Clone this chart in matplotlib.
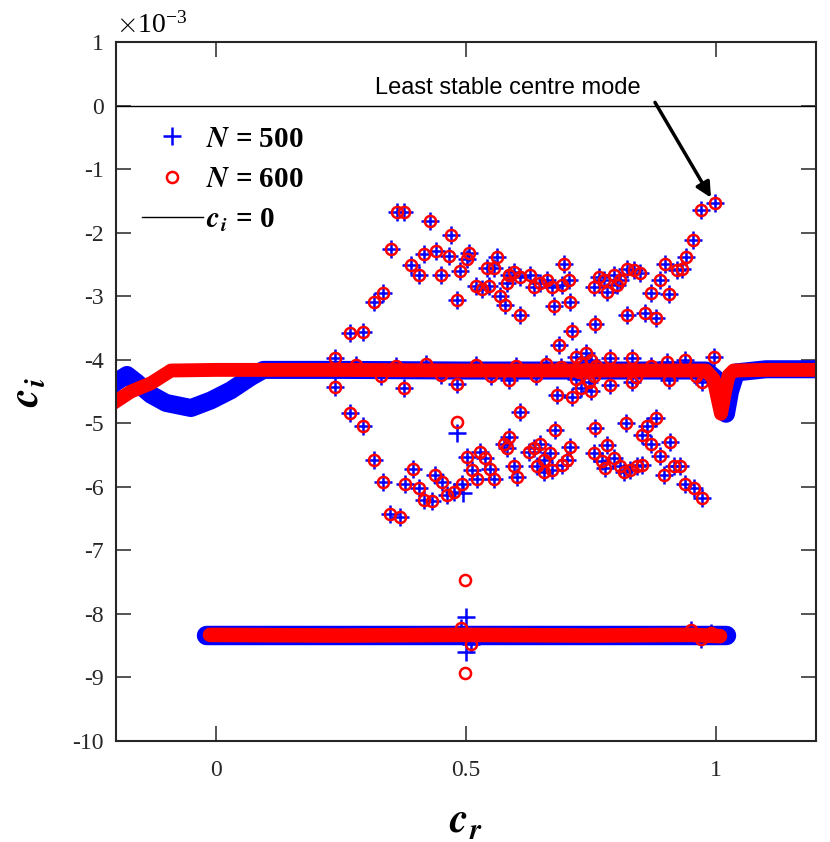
import matplotlib
matplotlib.use('Agg')
import matplotlib.pyplot as plt

# imaginary parts are in units of 1e-3 (see the x10^-3 note on the axis)

# discrete modes, found with both resolutions
modes_cr = [0.361, 0.375, 0.428, 0.470, 0.350, 0.416, 0.440, 0.465, 0.505, 0.501,
            0.561, 0.390, 0.405, 0.450, 0.488, 0.541, 0.555, 0.696, 0.520, 0.531,
            0.545, 0.585, 0.595, 0.608, 0.628, 0.635, 0.648, 0.661, 0.671, 0.691,
            0.705, 0.581, 0.481, 0.568, 0.578, 0.608, 0.675, 0.708, 0.315, 0.333,
            0.268, 0.293, 0.238, 0.711, 0.685, 0.755, 0.758,
            0.969, 0.998, 0.953, 0.940, 0.898, 0.921, 0.931, 0.888, 0.870, 0.905,
            0.858, 0.880, 0.821, 0.765, 0.775, 0.781, 0.795, 0.808, 0.821, 0.835,
            0.848, 0.801,
            0.788, 0.831, 0.901, 0.938, 0.995, 0.788, 0.831, 0.905, 0.971,
            0.238, 0.376, 0.481, 0.681, 0.711, 0.585,
            0.28, 0.33, 0.36, 0.42, 0.45, 0.52, 0.55, 0.60, 0.64, 0.66, 0.69, 0.84, 0.87, 0.96,
            0.72, 0.73, 0.74, 0.75, 0.72, 0.73, 0.745, 0.755, 0.74, 0.76, 0.725, 0.75,
            0.268, 0.293, 0.608, 0.678, 0.758, 0.315, 0.333, 0.393, 0.378, 0.405,
            0.415, 0.431, 0.438, 0.451, 0.461, 0.475, 0.491, 0.348, 0.367, 0.501,
            0.528, 0.538, 0.511, 0.521, 0.548, 0.555, 0.575, 0.585, 0.581, 0.595,
            0.601, 0.625, 0.635, 0.648, 0.655, 0.668, 0.641, 0.655, 0.671, 0.691,
            0.701, 0.708, 0.755,
            0.820, 0.880, 0.861, 0.851, 0.869, 0.907, 0.888, 0.781, 0.771, 0.778,
            0.795, 0.808, 0.815, 0.828, 0.841, 0.851, 0.895, 0.915, 0.928, 0.938,
            0.955, 0.971,
            0.95, 0.97, 0.99, 0.49, 0.51]
modes_ci = [-1.68, -1.68, -1.82, -2.03, -2.26, -2.34, -2.29, -2.36, -2.32, -2.41,
            -2.38, -2.51, -2.66, -2.67, -2.60, -2.55, -2.55, -2.49, -2.84, -2.88,
            -2.84, -2.67, -2.62, -2.70, -2.67, -2.86, -2.80, -2.75, -2.86, -2.83,
            -2.75, -2.80, -3.06, -3.00, -3.14, -3.30, -3.16, -3.09, -3.09, -2.95,
            -3.58, -3.56, -3.98, -3.55, -3.77, -2.86, -3.43,
            -1.64, -1.54, -2.12, -2.38, -2.49, -2.59, -2.57, -2.74, -2.95, -2.96,
            -3.27, -3.34, -3.30, -2.70, -2.75, -2.93, -2.67, -2.75, -2.57, -2.59,
            -2.64, -2.83,
            -3.98, -3.98, -4.03, -4.01, -3.95, -4.40, -4.35, -4.32, -4.35,
            -4.43, -4.44, -4.38, -4.56, -4.58, -4.32,
            -4.08, -4.25, -4.10, -4.06, -4.24, -4.08, -4.25, -4.10, -4.25, -4.07, -4.12, -4.27, -4.10, -4.25,
            -3.95, -4.05, -3.90, -4.00, -4.30, -4.45, -4.35, -4.25, -4.15, -4.10, -4.20, -4.50,
            -4.84, -5.05, -4.83, -5.11, -5.08, -5.58, -5.92, -5.72, -5.96, -6.02,
            -6.21, -6.23, -5.81, -5.92, -6.13, -6.08, -5.96, -6.42, -6.48, -5.53,
            -5.45, -5.55, -5.74, -5.88, -5.72, -5.87, -5.32, -5.21, -5.39, -5.68,
            -5.84, -5.45, -5.39, -5.32, -5.58, -5.47, -5.68, -5.76, -5.74, -5.66,
            -5.58, -5.37, -5.47,
            -4.99, -4.91, -5.04, -5.19, -5.33, -5.29, -5.52, -5.34, -5.60, -5.71,
            -5.55, -5.68, -5.76, -5.74, -5.68, -5.66, -5.81, -5.68, -5.68, -5.96,
            -6.02, -6.18,
            -8.25, -8.40, -8.30, -8.22, -8.48]

# modes that only one resolution shows
only500_cr = [0.481, 0.494, 0.500, 0.500]
only500_ci = [-5.15, -6.10, -8.05, -8.60]
only600_cr = [0.481, 0.498, 0.498]
only600_ci = [-4.98, -7.46, -8.93]

# dense continuous branches
upper500_cr = [-0.215, -0.2, -0.178, -0.16, -0.13, -0.1, -0.05, -0.01, 0.03, 0.07, 0.095,
               0.25, 0.5, 0.75, 0.98, 1.0, 1.01, 1.02, 1.028, 1.04, 1.1, 1.2]
upper500_ci = [-4.45, -4.35, -4.24, -4.35, -4.55, -4.68, -4.76, -4.64, -4.48, -4.27, -4.16,
               -4.16, -4.17, -4.17, -4.17, -4.30, -4.60, -4.85, -4.50, -4.20, -4.15, -4.15]
upper600_cr = [-0.205, -0.17, -0.13, -0.09, 0.0, 0.25, 0.5, 0.75, 0.98, 0.995, 1.003,
               1.01, 1.017, 1.025, 1.035, 1.1, 1.2]
upper600_ci = [-4.68, -4.50, -4.37, -4.17, -4.16, -4.16, -4.17, -4.17, -4.17, -4.30, -4.60,
               -4.85, -4.55, -4.25, -4.17, -4.16, -4.16]
lower500_cr = [-0.02, 0.25, 0.5, 0.75, 1.02]
lower500_ci = [-8.33, -8.33, -8.33, -8.33, -8.33]
lower600_cr = [-0.012, 0.25, 0.5, 0.75, 0.95, 1.008]
lower600_ci = [-8.33, -8.34, -8.33, -8.34, -8.33, -8.35]

plt.rcParams['font.family'] = ['Liberation Serif', 'DejaVu Serif']
plt.rcParams['mathtext.fontset'] = 'cm'
plt.rcParams['axes.unicode_minus'] = False

fig = plt.figure(figsize=(8.3, 8.42), dpi=100)
ax = fig.add_axes([116 / 830, 1 - 741 / 842, 700 / 830, 699 / 842])

blue = (0, 0, 1)
red = (1, 0, 0)

# N = 500 underneath
ax.plot(upper500_cr, upper500_ci, color=blue, lw=13, solid_joinstyle='round')
ax.plot(lower500_cr, lower500_ci, color=blue, lw=14, solid_capstyle='round')
h500, = ax.plot(modes_cr + only500_cr, modes_ci + only500_ci, ls='none', marker='+',
                ms=13, mew=1.8, color=blue, label=r'$\boldsymbol{N}$ = 500')

# N = 600 on top
ax.plot(upper600_cr, upper600_ci, color=red, lw=10, solid_joinstyle='round')
ax.plot(lower600_cr, lower600_ci, color=red, lw=10.5, solid_capstyle='round')
h600, = ax.plot(modes_cr + only600_cr, modes_ci + only600_ci, ls='none', marker='o',
                ms=8, mew=1.8, mfc='none', mec=red, label=r'$\boldsymbol{N}$ = 600')

hzero = ax.axhline(0, color='k', lw=1,
                   label=r'$\boldsymbol{c}_{\boldsymbol{i}}$ = 0')

ax.text(0.584, 0.28, 'Least stable centre mode', ha='center', va='center',
        fontsize=17, family='Liberation Sans')
ax.annotate('', xy=(0.99, -1.45), xytext=(0.878, 0.05),
            arrowprops=dict(arrowstyle='-|>,head_length=0.9,head_width=0.45',
                            color='k', lw=2.5, shrinkA=0, shrinkB=0))

ax.set_xlim(-0.2, 1.2)
ax.set_ylim(-10, 1)
ax.set_xticks([0, 0.5, 1])
ax.set_xticklabels(['0', '0.5', '1'])
ax.set_yticks(range(-10, 2))
ax.set_yticklabels([str(v) for v in range(-10, 2)])
ax.tick_params(direction='in', length=10.5, width=1.1, labelsize=17, colors='#262626',
               top=True, right=True)
ax.tick_params(axis='x', pad=14)
ax.tick_params(axis='y', pad=9)
for s in ax.spines.values():
    s.set_linewidth(1.5)
    s.set_color('#262626')

ax.set_xlabel(r'$\boldsymbol{c}_{\boldsymbol{r}}$', fontsize=30, labelpad=16)
ax.set_ylabel(r'$\boldsymbol{c}_{\boldsymbol{i}}$', fontsize=30, labelpad=18)

ax.text(0.0, 1.005, r'$\times\mathregular{10^{-3}}$', transform=ax.transAxes,
        fontsize=20, ha='left', va='bottom')

ax.legend(handles=[h500, h600, hzero], loc='upper left', bbox_to_anchor=(0.02, 0.897),
          frameon=False, prop={'family': 'Liberation Serif', 'weight': 'bold', 'size': 21},
          handlelength=2.1, handletextpad=0.1, labelspacing=0.45, borderaxespad=0)

fig.savefig('out.png', dpi=100)
